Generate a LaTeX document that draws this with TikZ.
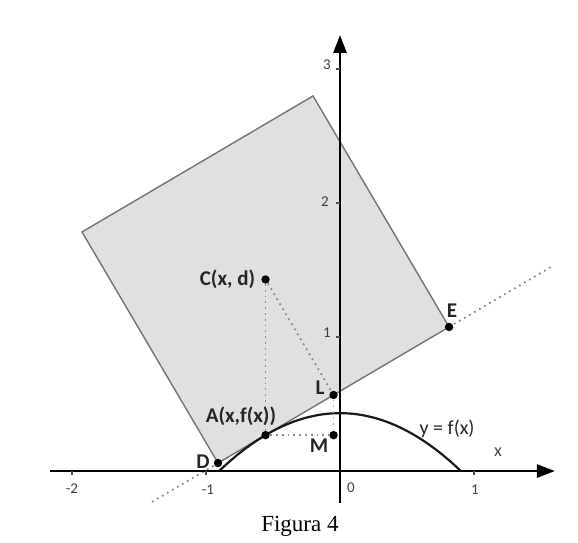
\documentclass[tikz,border=0pt]{standalone}
\usepackage{fontspec}
\setmainfont{Liberation Serif}
\newfontfamily\lab{Carlito}
\usetikzlibrary{arrows.meta}
\begin{document}
\begin{tikzpicture}[x=67pt,y=67pt,
  dotpt/.style={circle,fill=black,inner sep=0pt,minimum size=4.2pt},
  lbl/.style={font=\lab\bfseries\fontsize{10.5}{12}\selectfont,text=black!85,inner sep=1pt},
  tick/.style={font=\lab\fontsize{7.5}{8}\selectfont,text=black!75,inner sep=0pt},
  axis/.style={line width=1.3pt,-{Triangle[length=9pt,width=6.5pt]}},
  side/.style={draw=black!55,line width=0.7pt},
  dots/.style={draw=black!45,line width=0.9pt,dotted},
  curve/.style={line width=1.1pt,black!90}]
\useasboundingbox (-2.537,-0.530) rectangle (1.776,3.515);
% key points
\coordinate (D) at (-0.910,0.060);
\coordinate (E) at (0.814,1.075);
\coordinate (T) at (-0.201,2.799);
\coordinate (V) at (-1.925,1.784);
\coordinate (P1) at (-1.403,-0.230);
\coordinate (P2) at (1.590,1.532);
% square
\fill[black!12] (D) -- (E) -- (T) -- (V) -- cycle;
\draw[side] (D) -- (E) -- (T) -- (V) -- cycle;
% tangent extensions
\draw[dots] (P1) -- (D);
\draw[dots] (E) -- (P2);
% axes
\coordinate (xa0) at (-2.164,0);
\coordinate (xa1) at (1.604,0);
\coordinate (ya0) at (0,-0.24);
\coordinate (ya1) at (0,3.254);
\draw[axis] (xa0) -- (xa1);
\draw[axis] (ya0) -- (ya1);
\foreach \t in {-2,-1,1} \draw[line width=0.6pt,black!70] (\t,0) -- (\t,-0.03);
\foreach \t in {1,2,3} \draw[line width=0.6pt,black!70] (0,\t) -- (-0.03,\t);
% curve
\draw[curve] plot[domain=-0.902:0.902,samples=60,smooth] (\x,{0.432-0.531*\x*\x});
% points
\node[dotpt] (d) at (D) {};
\node[dotpt] (e) at (E) {};
\node[dotpt] (l) at (-0.048,0.5675) {};
\node[dotpt] (c) at (-0.5555,1.4295) {};
\node[dotpt] (a) at (-0.5555,0.268) {};
\node[dotpt] (m) at (-0.048,0.268) {};
% dotted construction lines
\draw[dots] (c) -- (a);
\draw[dots] (c) -- (l);
\draw[dots] (a) -- (m);
\draw[dots,draw=black!30] (l) -- (m);
% labels
\node[lbl,anchor=east] (lc) at (-0.615,1.433) {C(x, d)};
\node[lbl] (la) at (-0.739,0.410) {A(x,f(x))};
\node[lbl] (ll) at (-0.149,0.619) {L};
\node[lbl] (lm) at (-0.157,0.187) {M};
\node[lbl] (ld) at (-1.022,0.067) {D};
\node[lbl] (le) at (0.836,1.194) {E};
\node[lbl,font=\lab\fontsize{10}{12}\selectfont] (ly) at (0.799,0.313) {y = f(x)};
\node[lbl,font=\lab\fontsize{9}{12}\selectfont,text=black!70] (lx) at (1.179,0.142) {x};
% tick labels
\node[tick] (tm2) at (-2.0,-0.134) {-2};
\node[tick] (tm1) at (-0.985,-0.142) {-1};
\node[tick] (t0) at (0.082,-0.127) {0};
\node[tick] (t1) at (1.007,-0.142) {1};
\node[tick] (y1) at (-0.097,1.03) {1};
\node[tick] (y2) at (-0.112,2.007) {2};
\node[tick] (y3) at (-0.097,3.03) {3};
% caption
\node[font=\fontsize{11.5}{13}\selectfont] (cap) at (-0.299,-0.410) {Figura 4};
\end{tikzpicture}
\end{document}
